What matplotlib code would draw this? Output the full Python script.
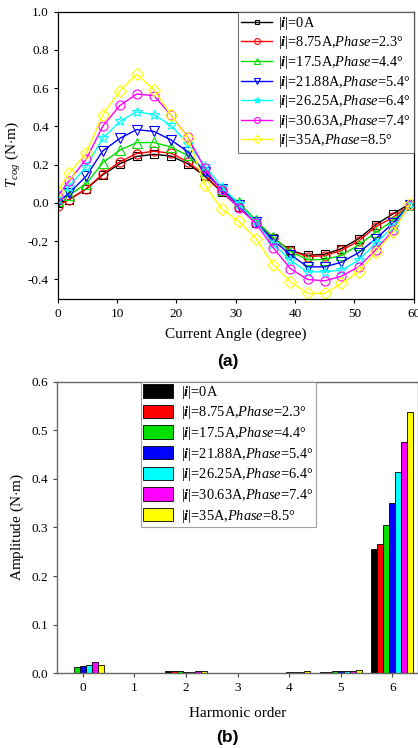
import numpy as np
import matplotlib.pyplot as plt

plt.rcParams['font.family'] = ['Liberation Serif', 'DejaVu Serif']
plt.rcParams['mathtext.fontset'] = 'custom'
plt.rcParams['mathtext.rm'] = 'Liberation Serif'
plt.rcParams['mathtext.it'] = 'Liberation Serif:italic'
plt.rcParams['mathtext.bf'] = 'Liberation Serif:bold'
plt.rcParams['mathtext.bfit'] = 'Liberation Serif:italic:bold'

# cogging torque vs current angle
angle = [0, 1.9, 4.8, 7.6, 10.5, 13.3, 16.2, 19.1, 21.9, 24.8, 27.6,
         30.5, 33.4, 36.3, 39.2, 42.1, 45.0, 47.8, 50.7, 53.6, 56.5, 59.3]

t_0 = [0.0, 0.017, 0.072, 0.147, 0.205, 0.243, 0.254, 0.245, 0.205, 0.14, 0.058,
       -0.022, -0.104, -0.185, -0.248, -0.274, -0.268, -0.239, -0.187, -0.113, -0.057, -0.005]
t_875 = [-0.015, 0.017, 0.074, 0.152, 0.215, 0.258, 0.27, 0.26, 0.215, 0.145, 0.06,
         -0.02, -0.104, -0.185, -0.25, -0.28, -0.276, -0.248, -0.2, -0.124, -0.075, -0.01]
t_175 = [0.01, 0.04, 0.1, 0.21, 0.277, 0.315, 0.316, 0.292, 0.248, 0.165, 0.07,
         0.003, -0.09, -0.18, -0.255, -0.296, -0.296, -0.274, -0.22, -0.153, -0.092, -0.01]
t_2188 = [0.005, 0.05, 0.14, 0.272, 0.338, 0.383, 0.374, 0.329, 0.268, 0.16, 0.075,
          -0.01, -0.1, -0.195, -0.27, -0.334, -0.334, -0.31, -0.26, -0.187, -0.106, -0.01]
t_2625 = [0.02, 0.085, 0.19, 0.338, 0.427, 0.476, 0.462, 0.405, 0.31, 0.195, 0.085,
          -0.005, -0.1, -0.213, -0.3, -0.36, -0.36, -0.351, -0.3, -0.209, -0.127, -0.01]
t_3063 = [0.035, 0.115, 0.228, 0.402, 0.51, 0.569, 0.561, 0.459, 0.344, 0.18, 0.065,
          -0.025, -0.106, -0.234, -0.343, -0.40, -0.407, -0.383, -0.334, -0.244, -0.144, -0.01]
t_35 = [0.06, 0.154, 0.261, 0.462, 0.587, 0.673, 0.592, 0.459, 0.341, 0.094, -0.031,
        -0.096, -0.187, -0.322, -0.412, -0.473, -0.473, -0.421, -0.36, -0.257, -0.153, -0.005]

# harmonic amplitudes
orders = [0, 1, 2, 3, 4, 5, 6]
a_0 = [0.001, 0.0005, 0.005, 0.001, 0.001, 0.0034, 0.255]
a_875 = [0.001, 0.0005, 0.005, 0.001, 0.001, 0.0034, 0.267]
a_175 = [0.013, 0.0005, 0.004, 0.001, 0.001, 0.004, 0.305]
a_2188 = [0.015, 0.0005, 0.003, 0.001, 0.002, 0.004, 0.350]
a_2625 = [0.017, 0.0005, 0.003, 0.001, 0.002, 0.0055, 0.415]
a_3063 = [0.0225, 0.0005, 0.004, 0.001, 0.003, 0.0055, 0.476]
a_35 = [0.018, 0.0005, 0.005, 0.001, 0.004, 0.0075, 0.537]

labels = [r'$|\mathbfit{i}|$=0A',
          r'$|\mathbfit{i}|$=8.75A,$\mathit{Phase}$=2.3°',
          r'$|\mathbfit{i}|$=17.5A,$\mathit{Phase}$=4.4°',
          r'$|\mathbfit{i}|$=21.88A,$\mathit{Phase}$=5.4°',
          r'$|\mathbfit{i}|$=26.25A,$\mathit{Phase}$=6.4°',
          r'$|\mathbfit{i}|$=30.63A,$\mathit{Phase}$=7.4°',
          r'$|\mathbfit{i}|$=35A,$\mathit{Phase}$=8.5°']
colors = ['#000000', '#ff0000', '#00e000', '#0000ff', '#00ffff', '#ff00ff', '#ffff00']
markers = ['s', 'o', '^', 'v', '*', 'o', 'D']
msizes = [5.5, 6.5, 6.5, 6.5, 7.5, 6.5, 6]

torques = [t_0, t_875, t_175, t_2188, t_2625, t_3063, t_35]
amps = [a_0, a_875, a_175, a_2188, a_2625, a_3063, a_35]

fig = plt.figure(figsize=(4.18, 7.48), dpi=100)

# (a) torque waveforms
ax1 = fig.add_axes([0.138, 0.6008, 0.852, 0.3837])
for t, c, m, ms, lab in zip(torques, colors, markers, msizes, labels):
    ax1.plot(angle, t, color=c, marker=m, markersize=ms, markerfacecolor='none',
             markeredgecolor=c, markeredgewidth=0.8, linewidth=1.0, label=lab)
ax1.set_xlim(0, 60)
ax1.set_ylim(-0.5, 1.0)
ax1.set_xticks([0, 10, 20, 30, 40, 50, 60])
ax1.set_yticks([-0.4, -0.2, 0.0, 0.2, 0.4, 0.6, 0.8, 1.0])
ax1.set_yticklabels(['-0.4', '-0.2', '0.0', '0.2', '0.4', '0.6', '0.8', '1.0'])
ax1.tick_params(labelsize=9.5, length=3, width=0.8)
ax1.set_xlabel('Current Angle (degree)', fontsize=11, labelpad=6)
ax1.set_ylabel(r'$T_{cog}$ (N$\cdot$m)', fontsize=11, labelpad=3)
for s in ax1.spines.values():
    s.set_linewidth(0.9)
leg1 = ax1.legend(loc='upper right', fontsize=10.4, frameon=True, fancybox=False,
                  borderaxespad=0, handlelength=2.1, handletextpad=0.45,
                  labelspacing=0.18, markerscale=0.65, borderpad=0.22)
leg1.get_frame().set_edgecolor('#555555')
leg1.get_frame().set_linewidth(0.8)
fig.text(0.545, 0.5164, '(a)', ha='center', va='center', fontsize=12.5,
         fontweight='bold', family='Liberation Sans')

# (b) harmonic spectrum
ax2 = fig.add_axes([0.1364, 0.0999, 0.8636, 0.3898])
n = len(amps)
w = 0.116
x = np.arange(len(orders))
for k, (a, c, lab) in enumerate(zip(amps, colors, labels)):
    ax2.bar(x + (k - (n - 1) / 2) * w, a, width=w, color=c, edgecolor='black',
            linewidth=0.6, label=lab)
ax2.set_xlim(-0.5, 6.5)
ax2.set_ylim(0, 0.6)
ax2.set_xticks(x)
ax2.set_xticklabels([str(o) for o in orders])
ax2.set_yticks([0.0, 0.1, 0.2, 0.3, 0.4, 0.5, 0.6])
ax2.tick_params(labelsize=9.5, length=3, width=0.8, color='#444444')
ax2.set_xlabel('Harmonic order', fontsize=11, labelpad=9)
ax2.set_ylabel('Amplitude (N$\\cdot$m)', fontsize=11, labelpad=4)
for s in ax2.spines.values():
    s.set_linewidth(1.0)
    s.set_color('#666666')
leg2 = ax2.legend(loc='upper left', bbox_to_anchor=(0.232, 1.0), fontsize=10.4,
                  frameon=True, fancybox=False, borderaxespad=0,
                  handlelength=2.1, handleheight=1.05, handletextpad=0.55,
                  labelspacing=0.25, borderpad=0.15)
leg2.get_frame().set_edgecolor('#888888')
leg2.get_frame().set_linewidth(0.8)
fig.text(0.545, 0.0134, '(b)', ha='center', va='center', fontsize=12.5,
         fontweight='bold', family='Liberation Sans')

fig.savefig('out.png', dpi=100)
